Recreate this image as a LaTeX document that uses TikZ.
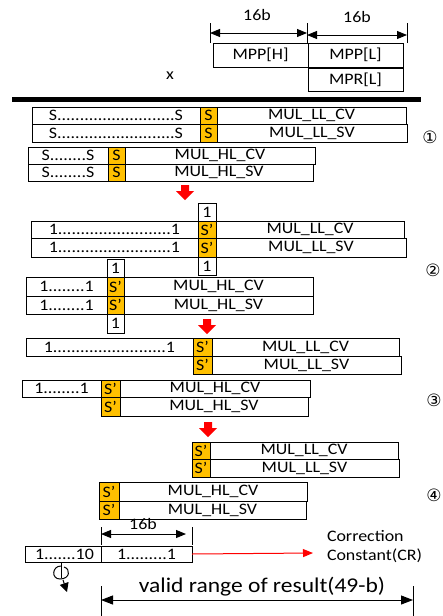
\documentclass[tikz,border=0pt]{standalone}
\usepackage{fontspec}
\setmainfont{Carlito}[FakeStretch=1.12]
\newfontfamily\symfont{DejaVu Sans}
\usetikzlibrary{arrows.meta}
\definecolor{gold}{HTML}{FFC000}
\tikzset{
  box/.style={draw, line width=1pt, fill=white, inner sep=0pt, outer sep=0pt, font=\fontsize{16}{16}\selectfont},
  sbox/.style={box, fill=gold},
  plain/.style={inner sep=0pt, outer sep=0pt, font=\fontsize{16}{16}\selectfont},
  dimarrow/.style={line width=1pt, {Triangle[length=10pt,width=8pt]}-{Triangle[length=10pt,width=8pt]}},
  tickline/.style={line width=1pt},
  redline/.style={red, line width=1pt, -{Triangle[length=10pt,width=8pt]}},
  circnum/.style={inner sep=0pt, font=\symfont\fontsize{17}{17}\selectfont},
}
% \bx[style]{name}{x1}{y1}{x2}{y2}{text}
\newcommand\bx[7][box]{\node[#1, minimum width={(#5-#3)*1pt}, minimum height={(#6-#4)*1pt}] (#2) at ({(#3+#5)/2},{(#4+#6)/2}) {#7};}
\newcommand\redarrow[3]{\fill[red] (#1-4,#2) -- (#1+4,#2) -- (#1+4,#2+6) -- (#1+9,#2+6) -- (#1,#3) -- (#1-9,#2+6) -- (#1-4,#2+6) -- cycle;}
\begin{document}
\begin{tikzpicture}[x=1pt,y=-1pt]
\useasboundingbox (0,0) rectangle (443,616);

% ---- top operands ----
\coordinate (t1a) at (210,23); \coordinate (t1b) at (210,43);
\coordinate (t2a) at (307,23); \coordinate (t2b) at (307,43);
\coordinate (t3a) at (407,23); \coordinate (t3b) at (407,43);
\draw[tickline] (t1a) -- (t1b);
\draw[tickline] (t2a) -- (t2b);
\draw[tickline] (t3a) -- (t3b);
\coordinate (d1a) at (210,33); \coordinate (d1b) at (307,33);
\coordinate (d2a) at (307,35); \coordinate (d2b) at (407,35);
\draw[dimarrow] (d1a) -- (d1b);
\draw[dimarrow] (d2a) -- (d2b);
\node[plain] (lab16a) at (257,15) {16b};
\node[plain] (lab16b) at (357,17) {16b};
\bx{mpph}{213}{43}{308}{67}{MPP[H]}
\bx{mppl}{308}{43}{403}{67}{MPP[L]}
\bx{mprl}{308}{68}{403}{91}{MPR[L]}
\node[plain] (times) at (170,76) {x};
\fill (12,97) rectangle (421,102);

% ---- step 1 ----
\bx{a1l}{32}{107}{200}{124}{S..........................S}
\bx{a1r}{217}{107}{406}{124}{MUL\_LL\_CV}
\bx[sbox]{a1s}{200}{107}{217}{124}{S}
\bx{a2l}{32}{124}{200}{142}{S..........................S}
\bx{a2r}{217}{124}{407}{142}{MUL\_LL\_SV}
\bx[sbox]{a2s}{200}{124}{217}{142}{S}
\bx{a3l}{28}{147}{108}{164}{S........S}
\bx{a3r}{125}{147}{315}{164}{MUL\_HL\_CV}
\bx[sbox]{a3s}{108}{147}{125}{164}{S}
\bx{a4l}{28}{164}{108}{181}{S........S}
\bx{a4r}{125}{164}{313}{181}{MUL\_HL\_SV}
\bx[sbox]{a4s}{108}{164}{125}{181}{S}
\node[circnum] (n1) at (430,137) {①};
\redarrow{185}{185}{200}

% ---- step 2 ----
\bx{b0}{198}{203}{216}{221}{1}
\bx{b1l}{31}{221}{198}{238}{1.........................1}
\bx{b1r}{216}{221}{404}{238}{MUL\_LL\_CV}
\bx[sbox]{b1s}{198}{221}{216}{238}{S’}
\bx{b2l}{31}{238}{198}{257}{1.........................1}
\bx{b2r}{216}{238}{406}{257}{MUL\_LL\_SV}
\bx[sbox]{b2s}{198}{238}{216}{257}{S’}
\bx{b5}{198}{257}{216}{275}{1}
\bx{b6}{107}{259}{124}{277}{1}
\bx{b3l}{26}{277}{107}{296}{1........1}
\bx{b3r}{124}{277}{313}{296}{MUL\_HL\_CV}
\bx[sbox]{b3s}{107}{277}{124}{296}{S’}
\bx{b4l}{26}{296}{107}{314}{1........1}
\bx{b4r}{124}{296}{313}{314}{MUL\_HL\_SV}
\bx[sbox]{b4s}{107}{296}{124}{314}{S’}
\bx{b7}{107}{314}{124}{333}{1}
\node[circnum] (n2) at (433,270) {②};
\redarrow{207}{319}{334}

% ---- step 3 ----
\bx{c1l}{26}{338}{193}{356}{1.........................1}
\bx{c1r}{212}{338}{399}{356}{MUL\_LL\_CV}
\bx[sbox]{c1s}{193}{338}{212}{356}{S’}
\bx{c2r}{212}{356}{401}{374}{MUL\_LL\_SV}
\bx[sbox]{c2s}{193}{356}{212}{374}{S’}
\bx{c3l}{22}{380}{101}{397}{1........1}
\bx{c3r}{120}{380}{310}{397}{MUL\_HL\_CV}
\bx[sbox]{c3s}{101}{380}{120}{397}{S’}
\bx{c4r}{120}{397}{308}{416}{MUL\_HL\_SV}
\bx[sbox]{c4s}{101}{397}{120}{416}{S’}
\node[circnum] (n3) at (434,400) {③};
\redarrow{208}{422}{437}

% ---- step 4 ----
\bx{d1r}{210}{442}{398}{459}{MUL\_LL\_CV}
\bx[sbox]{d1s}{192}{442}{210}{459}{S’}
\bx{d2r}{210}{459}{399}{477}{MUL\_LL\_SV}
\bx[sbox]{d2s}{192}{459}{210}{477}{S’}
\bx{d3r}{119}{482}{307}{501}{MUL\_HL\_CV}
\bx[sbox]{d3s}{99}{482}{119}{501}{S’}
\bx{d4r}{119}{501}{306}{519}{MUL\_HL\_SV}
\bx[sbox]{d4s}{99}{501}{119}{519}{S’}
\node[circnum] (n4) at (434,495) {④};

% ---- result ----
\coordinate (e1a) at (101,527); \coordinate (e1b) at (101,545);
\coordinate (e2a) at (192,527); \coordinate (e2b) at (192,545);
\draw[tickline] (e1a) -- (e1b);
\draw[tickline] (e2a) -- (e2b);
\coordinate (f1) at (101,534); \coordinate (f2) at (186,534);
\draw[dimarrow] (f1) -- (f2);
\node[plain] (lab16c) at (143,524) {16b};
\bx{e1}{25}{546}{104}{562}{1.......10}
\bx{e2}{101}{546}{192}{562}{1.........1}
\coordinate (cr) at (313,553);
\draw[redline] (e2.east) -- (cr);
\node[plain, anchor=west] (corr1) at (327,536) {Correction};
\node[plain, anchor=west] (corr2) at (327,556) {Constant(CR)};

% rotate symbol
\coordinate (r0) at (61,562);
\coordinate (r1) at (61,578);
\draw[line width=1pt] (r0) -- (r1);
\draw[line width=1pt] (61,566) .. controls (52,566) and (51,579) .. (60,579) .. controls (70,579) and (71,569) .. (64,567);
\draw[line width=1pt, -{Triangle[length=9pt,width=9pt]}] (63,580) -- (67,592);

% valid range
\coordinate (g1a) at (101,586); \coordinate (g1b) at (101,620);
\coordinate (g2a) at (413,586); \coordinate (g2b) at (413,620);
\draw[tickline] (g1a) -- (g1b);
\draw[tickline] (g2a) -- (g2b);
\coordinate (h1) at (101,600); \coordinate (h2) at (413,600);
\draw[line width=1pt, {Triangle[length=12pt,width=9pt]}-{Triangle[length=12pt,width=9pt]}] (h1) -- (h2);
\node[plain, font=\fontsize{21}{21}\selectfont] (valid) at (262,587) {valid range of result(49-b)};
\end{tikzpicture}
\end{document}
